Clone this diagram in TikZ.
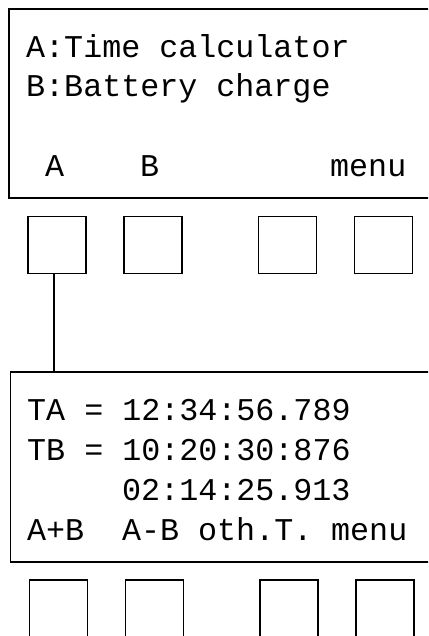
\documentclass[tikz,border=0pt]{standalone}
\usepackage{fontspec}
\setmonofont{Liberation Mono}
\usepackage{tikz}

\tikzset{
	screen/.style={shape=rectangle,draw=black,line width=1.2pt,minimum width=431pt,inner sep=0pt},
	button/.style={shape=rectangle,draw=black,line width=1.2pt,minimum width=58pt,minimum height=57pt,inner sep=0pt},
	lcd/.style={anchor=base west,inner sep=0pt,font=\ttfamily\fontsize{31.7}{38}\selectfont}
}

\begin{document}
\begin{tikzpicture}[x=1pt,y=-1pt]
	
	\useasboundingbox (0,0) rectangle (428,636);
	\clip (0,0) rectangle (428,636);
	
	% first screen
	\node[screen,minimum height=189pt] (scrA) at (224.5, 103.5) {};
	\node[lcd] (menuA1) at (26, 58)   {A:Time calculator};
	\node[lcd] (menuA2) at (26, 97)   {B:Battery charge};
	\node[lcd] (keyA1) at (45, 177)   {A};
	\node[lcd] (keyA2) at (140, 177)  {B};
	\node[lcd] (keyA4) at (330, 177)  {menu};
	
	\node[button] (btnA1) at (57, 245)    {};
	\node[button] (btnA2) at (153, 245)   {};
	\node[button] (btnA3) at (287.5, 245) {};
	\node[button] (btnA4) at (383.5, 245) {};
	
	% second screen
	\node[screen,minimum height=190pt] (scrB) at (225.75, 467) {};
	\node[lcd] (timeA) at (27, 420)  {TA = 12:34:56.789};
	\node[lcd] (timeB) at (27, 460)  {TB = 10:20:30:876};
	\node[lcd] (timeR) at (122, 500) {02:14:25.913};
	\node[lcd] (keyB1) at (27, 540)  {A+B};
	\node[lcd] (keyB2) at (122, 540) {A-B};
	\node[lcd] (keyB3) at (198, 540) {oth.T.};
	\node[lcd] (keyB4) at (331, 540) {menu};
	
	\node[button] (btnB1) at (58.5, 608.5) {};
	\node[button] (btnB2) at (154.5, 608.5) {};
	\node[button] (btnB3) at (289, 608.5)   {};
	\node[button] (btnB4) at (385, 608.5)   {};
	
	\path[-, line width=1.2pt] ([xshift=-3pt]btnA1.south) edge ([xshift=-3pt]scrB.north -| btnA1.south);
	
\end{tikzpicture}
\end{document}
